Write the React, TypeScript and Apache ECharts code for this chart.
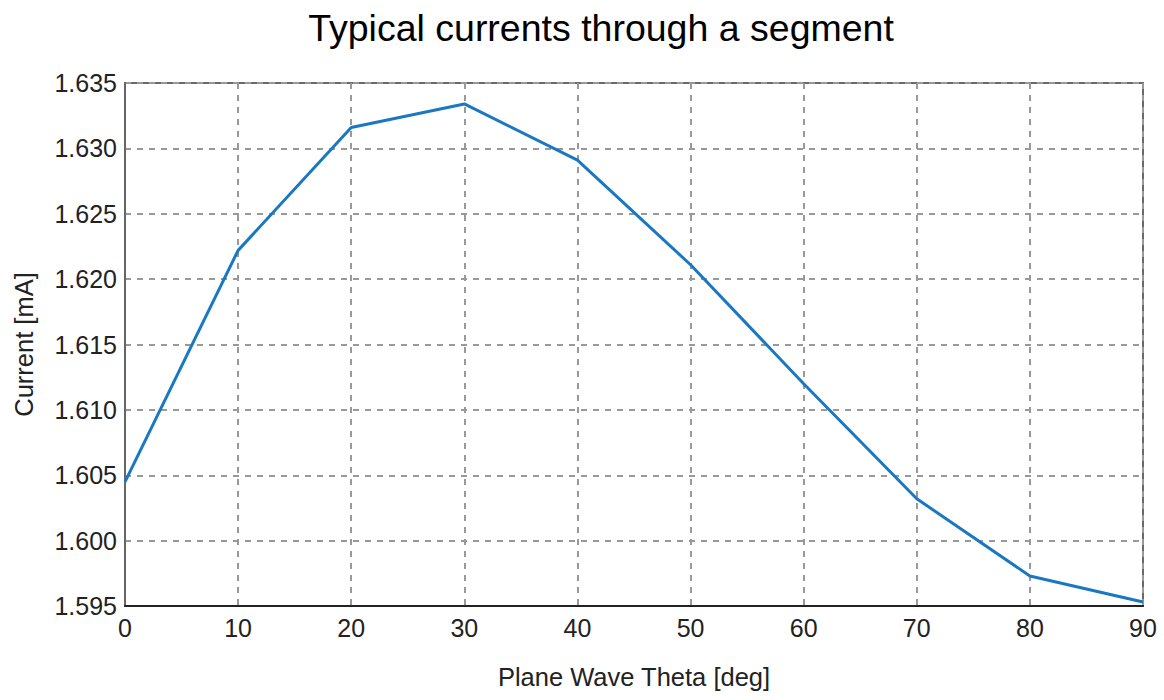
import React, { useEffect, useRef } from "react";
import * as echarts from "echarts";

const thetaDeg = [0, 10, 20, 30, 40, 50, 60, 70, 80, 90];
const currentMA = [1.6045, 1.6222, 1.6316, 1.6334, 1.6291, 1.6211, 1.612, 1.6032, 1.5973, 1.5953];
const titleText = "Typical currents through a segment";
const xName = "Plane Wave Theta [deg]";
const yName = "Current [mA]";

export default function App() {
  const ref = useRef<HTMLDivElement>(null);
  useEffect(() => {
    if (!ref.current) return;
    const chart = echarts.init(ref.current, null, { renderer: "svg" });
    const font = "'Liberation Sans', Arial, sans-serif";
    chart.setOption({
      animation: false,
      backgroundColor: "#ffffff",
      title: {
        text: titleText,
        left: 596,
        textAlign: "center",
        top: 4,
        textStyle: { fontFamily: font, fontSize: 37.5, fontWeight: "normal", color: "#000" },
      },
      grid: {
        left: 125,
        right: 21,
        top: 83,
        bottom: 94,
        show: true,
        borderColor: "#6a6a6a",
        borderWidth: 2,
        backgroundColor: "#fff",
      },
      xAxis: {
        type: "value",
        min: 0,
        max: 90,
        interval: 10,
        name: xName,
        nameLocation: "middle",
        nameGap: 58,
        nameTextStyle: { fontFamily: font, fontSize: 25.5, color: "#222" },
        axisLine: { show: true, lineStyle: { color: "#222", width: 2 } },
        axisTick: { show: false },
        axisLabel: { fontFamily: font, fontSize: 25, color: "#222", margin: 9 },
        splitLine: { show: true, lineStyle: { color: "#999", type: [6, 6], width: 2 } },
      },
      yAxis: {
        type: "value",
        min: 1.595,
        max: 1.635,
        interval: 0.005,
        name: yName,
        nameLocation: "middle",
        nameGap: 88,
        nameTextStyle: { fontFamily: font, fontSize: 25.5, color: "#222" },
        axisLine: { show: true, lineStyle: { color: "#666", width: 2 } },
        axisTick: { show: false },
        axisLabel: {
          fontFamily: font,
          fontSize: 25,
          color: "#222",
          margin: 8,
          formatter: (v: number) => v.toFixed(3),
        },
        splitLine: { show: true, lineStyle: { color: "#999", type: [6, 6], width: 2 } },
      },
      series: [
        {
          type: "line",
          data: thetaDeg.map((x, i) => [x, currentMA[i]]),
          showSymbol: false,
          lineStyle: { color: "#1a78c2", width: 3 },
        },
      ],
    });
    return () => chart.dispose();
  }, []);
  return <div ref={ref} style={{ width: 1164, height: 700, position: "absolute", left: 0, top: 0 }} />;
}
